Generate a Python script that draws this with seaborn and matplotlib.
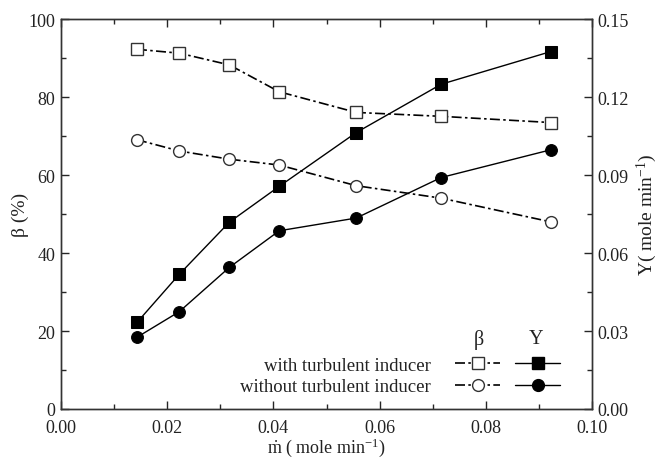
import numpy as np
import pandas as pd
import matplotlib
matplotlib.use("Agg")
import matplotlib.pyplot as plt
import seaborn as sns
from matplotlib.lines import Line2D
from matplotlib.ticker import MultipleLocator, FormatStrFormatter

# flow rate (mole/min)
m_dot = [0.0143, 0.0223, 0.0317, 0.0411, 0.0556, 0.0716, 0.0923]

# beta (%)
beta_with = [92.3, 91.3, 88.3, 81.4, 76.1, 75.1, 73.5]
beta_without = [69.1, 66.2, 64.1, 62.6, 57.3, 54.1, 48.0]

# Y (mole/min)
y_with = [0.0333, 0.0519, 0.0719, 0.0857, 0.1064, 0.1250, 0.1376]
y_without = [0.0276, 0.0375, 0.0545, 0.0686, 0.0735, 0.0891, 0.0998]

df = pd.DataFrame({"m": m_dot, "bw": beta_with, "bwo": beta_without,
                   "yw": y_with, "ywo": y_without})

sns.set_theme(style="ticks")
plt.rcParams["font.family"] = ["Liberation Serif", "DejaVu Serif"]
plt.rcParams["mathtext.fontset"] = "custom"
plt.rcParams["mathtext.rm"] = "Liberation Serif"
plt.rcParams["mathtext.it"] = "Liberation Serif:italic"
plt.rcParams["axes.linewidth"] = 1.0

FS_TICK = 13
FS_LAB = 14
FS_LEG = 13.5
TXT = "#222222"
dashdot = (0, (6, 2, 1.5, 2))

fig = plt.figure(figsize=(6.61, 4.6), dpi=100)
ax = fig.add_axes([0.0923, 0.1087, 0.8033, 0.8472])
ax2 = ax.twinx()

open_kw = dict(color="black", mfc="white", mec="#333333", mew=1.0,
               markersize=8.5, linewidth=1.2, linestyle=dashdot)
fill_kw = dict(color="black", mfc="black", mec="black",
               markersize=8.5, linewidth=1.0)

sns.lineplot(data=df, x="m", y="bw", ax=ax, marker="s", **open_kw)
sns.lineplot(data=df, x="m", y="bwo", ax=ax, marker="o", **open_kw)
sns.lineplot(data=df, x="m", y="yw", ax=ax2, marker="s", **fill_kw)
sns.lineplot(data=df, x="m", y="ywo", ax=ax2, marker="o", **fill_kw)

ax.set_xlim(0, 0.10)
ax.set_ylim(0, 100)
ax2.set_ylim(0, 0.15)

ax.xaxis.set_major_locator(MultipleLocator(0.02))
ax.xaxis.set_minor_locator(MultipleLocator(0.01))
ax.xaxis.set_major_formatter(FormatStrFormatter("%.2f"))
ax.yaxis.set_major_locator(MultipleLocator(20))
ax.yaxis.set_minor_locator(MultipleLocator(10))
ax2.yaxis.set_major_locator(MultipleLocator(0.03))
ax2.yaxis.set_minor_locator(MultipleLocator(0.015))
ax2.yaxis.set_major_formatter(FormatStrFormatter("%.2f"))

ax.tick_params(axis="x", which="both", direction="in", top=True,
               labelsize=FS_TICK, pad=7, labelcolor=TXT)
ax.tick_params(axis="y", which="both", direction="in", right=False,
               labelsize=FS_TICK, pad=4, labelcolor=TXT)
ax2.tick_params(axis="y", which="both", direction="in", labelsize=FS_TICK,
                pad=4, labelcolor=TXT)
for a in (ax, ax2):
    a.tick_params(which="major", length=6, width=1)
    a.tick_params(which="minor", length=3.5, width=1)
    for s in a.spines.values():
        s.set_visible(True)
        s.set_color("#333333")

ax.set_xlabel(r"$\dot{\mathrm{m}}$ ( mole min$^{\mathrm{-1}}$)", fontsize=13,
              labelpad=0, color=TXT)
ax.set_ylabel("β (%)", fontsize=FS_LAB, labelpad=0, color=TXT)
ax2.set_ylabel(r"Y( mole min$^{\mathrm{-1}}$)", fontsize=FS_LAB, labelpad=4,
               color=TXT)

# legend: row labels on the left, beta keys then Y keys
h_bw = Line2D([], [], marker="s", **open_kw)
h_bwo = Line2D([], [], marker="o", **open_kw)
h_yw = Line2D([], [], marker="s", **fill_kw)
h_ywo = Line2D([], [], marker="o", **fill_kw)
leg = ax2.legend([h_bw, h_bwo, h_yw, h_ywo],
                 ["with turbulent inducer", "without turbulent inducer", "", ""],
                 ncol=2, markerfirst=False, frameon=False, fontsize=FS_LEG,
                 loc="lower right", bbox_to_anchor=(0.94, 0.035),
                 borderaxespad=0, borderpad=0, handlelength=2.4,
                 handletextpad=1.3, columnspacing=-0.5, labelspacing=0.25)
for t in leg.get_texts():
    t.set_color(TXT)
ax.text(0.787, 0.18, "β", transform=ax.transAxes, fontsize=FS_LEG + 1,
        ha="center", va="center", color=TXT)
ax.text(0.895, 0.18, "Y", transform=ax.transAxes, fontsize=FS_LEG + 1,
        ha="center", va="center", color=TXT)

fig.savefig("out.png", dpi=100)
